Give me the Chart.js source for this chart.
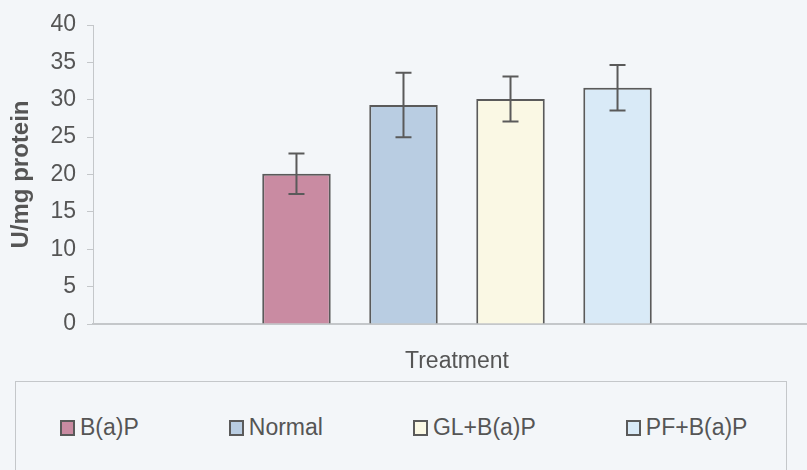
<!DOCTYPE html>
<html>
<head>
<meta charset="utf-8">
<script src="https://cdn.jsdelivr.net/npm/chart.js@4.4.1/dist/chart.umd.min.js"></script>
<style>
  html, body { margin: 0; padding: 0; background: #f3f6f9; }
  #wrap { position: relative; width: 807px; height: 470px; overflow: hidden; }
  #grafico { position: absolute; left: 0; top: 0; }
  #leyenda {
    position: absolute; left: 15px; top: 381px; width: 772px; height: 110px;
    border: 1px solid #c4c7ca; box-sizing: border-box;
    display: flex; align-items: flex-start; gap: 90px;
    padding: 32px 0 0 44px;
    font-family: "Liberation Sans", Arial, sans-serif; font-size: 23px; color: #555;
  }
  .item { display: flex; align-items: center; white-space: nowrap; }
  .marca { width: 11px; height: 12px; border: 2px solid #5a5a5a; margin-right: 5px; }
</style>
</head>
<body>
<div id="wrap">
  <!-- el lienzo es más ancho que la ventana: el eje X continúa fuera del borde derecho -->
  <canvas id="grafico" width="821" height="380"></canvas>
  <div id="leyenda"></div>
</div>
<script>
// Datos
const grupos = ["B(a)P", "Normal", "GL+B(a)P", "PF+B(a)P"];
const medias = [20.1, 29.3, 30.1, 31.6];
const errores = [2.7, 4.3, 3.0, 3.05];
const colores = ["#c98ba2", "#b9cde2", "#faf8e4", "#d9eaf7"];
const ticksY = [0, 5, 10, 15, 20, 25, 30, 35, 40];

const GRIS = "#555555";
const FUENTE = "'Liberation Sans', Arial, sans-serif";

// Dibujar barras de error con las escalas del gráfico
const barrasError = {
  id: "barrasError",
  afterDatasetsDraw(chart) {
    const ctx = chart.ctx;
    const y = chart.scales.y;
    ctx.save();
    ctx.strokeStyle = "#5a5a5a";
    ctx.lineWidth = 2;
    chart.data.datasets.forEach((ds, i) => {
      const barra = chart.getDatasetMeta(i).data[0];
      const x = barra.x;
      const arriba = y.getPixelForValue(medias[i] + errores[i]);
      const abajo = y.getPixelForValue(medias[i] - errores[i]);
      ctx.beginPath();
      ctx.moveTo(x, arriba); ctx.lineTo(x, abajo);
      ctx.moveTo(x - 8, arriba); ctx.lineTo(x + 8, arriba);
      ctx.moveTo(x - 8, abajo); ctx.lineTo(x + 8, abajo);
      ctx.stroke();
    });
    ctx.restore();
  }
};

const chart = new Chart(document.getElementById("grafico"), {
  type: "bar",
  data: {
    labels: [""],
    datasets: grupos.map((g, i) => ({
      label: g,
      data: [medias[i]],
      backgroundColor: colores[i],
      borderColor: "#5a5a5a",
      borderWidth: 2,
      categoryPercentage: 0.588,
      barPercentage: 0.64
    }))
  },
  options: {
    responsive: false,
    animation: false,
    layout: { padding: { top: 25, right: 0, left: 0, bottom: 0 } },
    plugins: {
      legend: { display: false },
      tooltip: { enabled: false }
    },
    scales: {
      x: {
        ticks: { display: false },
        grid: { display: false },
        border: { display: true, color: "#c4c7ca", width: 2 },
        title: {
          display: true,
          text: "Treatment",
          color: GRIS,
          font: { family: FUENTE, size: 23 },
          padding: { top: 0, bottom: 5 }
        },
        afterFit(scale) { scale.height = 56; }
      },
      y: {
        min: 0,
        max: 40,
        afterBuildTicks(scale) { scale.ticks = ticksY.map(v => ({ value: v })); },
        ticks: {
          color: GRIS,
          font: { family: FUENTE, size: 23 },
          padding: 11
        },
        grid: {
          drawOnChartArea: false,
          drawTicks: true,
          tickLength: 6,
          color: "#c4c7ca"
        },
        border: { display: true, color: "#c4c7ca", width: 1 },
        title: {
          display: true,
          text: "U/mg protein",
          color: GRIS,
          font: { family: FUENTE, size: 24, weight: "bold" },
          padding: { top: 7, bottom: 0 }
        },
        afterFit(scale) { scale.width = 93; }
      }
    }
  },
  plugins: [barrasError]
});

// Leyenda en HTML a partir de los datasets
const leyenda = document.getElementById("leyenda");
chart.data.datasets.forEach((ds) => {
  const item = document.createElement("div");
  item.className = "item";
  const marca = document.createElement("span");
  marca.className = "marca";
  marca.style.background = ds.backgroundColor;
  item.appendChild(marca);
  item.appendChild(document.createTextNode(ds.label));
  leyenda.appendChild(item);
});
</script>
</body>
</html>
